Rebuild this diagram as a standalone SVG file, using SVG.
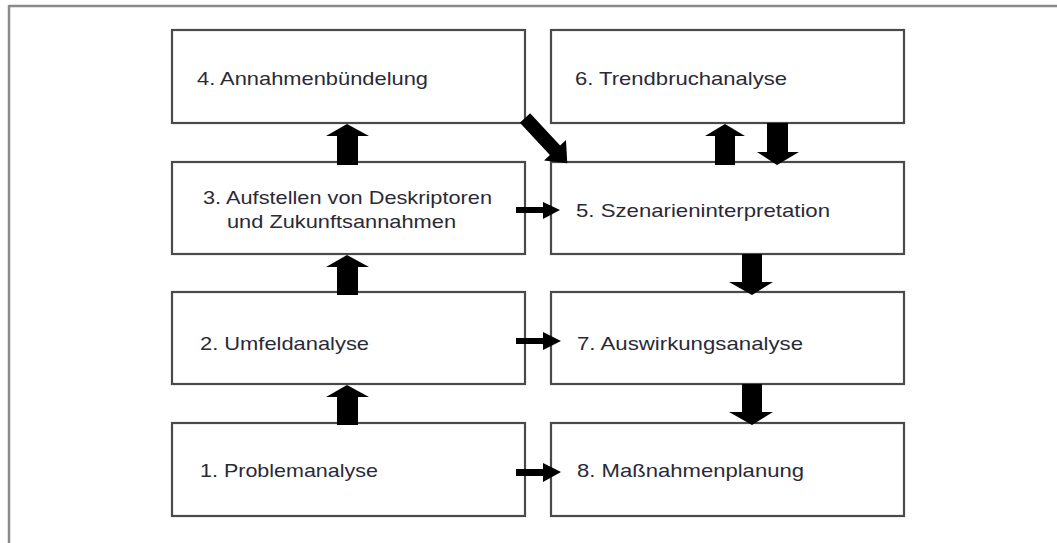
<svg xmlns="http://www.w3.org/2000/svg" width="1057" height="543" viewBox="0 0 1057 543">
<style>
.frame{stroke:#8a8a8a;stroke-width:2.5;fill:none}
.box{fill:#fff;stroke:#4a4a4a;stroke-width:2.2}
.lbl{font-family:"Liberation Sans",Arial,sans-serif;font-size:19px;fill:#2a2a36}
.arr{fill:#000}
</style>
<rect width="1057" height="543" fill="#fff"/>
<g id="frame">
<line class="frame" x1="9" y1="6" x2="1057" y2="6"/>
<line class="frame" x1="9" y1="5" x2="9" y2="543"/>
</g>
<g id="node4"><rect class="box" x="172" y="30" width="353" height="93"/><text class="lbl" x="197" y="85" textLength="231" lengthAdjust="spacingAndGlyphs">4. Annahmenbündelung</text></g>
<g id="node6"><rect class="box" x="551" y="30" width="353" height="93"/><text class="lbl" x="575" y="85" textLength="212" lengthAdjust="spacingAndGlyphs">6. Trendbruchanalyse</text></g>
<g id="node3"><rect class="box" x="172" y="162" width="353" height="92"/><text class="lbl" x="203" y="204" textLength="289" lengthAdjust="spacingAndGlyphs">3. Aufstellen von Deskriptoren</text><text class="lbl" x="227" y="228" textLength="229" lengthAdjust="spacingAndGlyphs">und Zukunftsannahmen</text></g>
<g id="node5"><rect class="box" x="551" y="162" width="353" height="92"/><text class="lbl" x="576" y="217" textLength="254" lengthAdjust="spacingAndGlyphs">5. Szenarieninterpretation</text></g>
<g id="node2"><rect class="box" x="172" y="292" width="353" height="92"/><text class="lbl" x="200" y="350" textLength="169" lengthAdjust="spacingAndGlyphs">2. Umfeldanalyse</text></g>
<g id="node7"><rect class="box" x="551" y="292" width="353" height="92"/><text class="lbl" x="577" y="350" textLength="226" lengthAdjust="spacingAndGlyphs">7. Auswirkungsanalyse</text></g>
<g id="node1"><rect class="box" x="172" y="423" width="353" height="93"/><text class="lbl" x="200" y="477" textLength="178" lengthAdjust="spacingAndGlyphs">1. Problemanalyse</text></g>
<g id="node8"><rect class="box" x="551" y="423" width="353" height="93"/><text class="lbl" x="577" y="477" textLength="227" lengthAdjust="spacingAndGlyphs">8. Maßnahmenplanung</text></g>
<g id="connectors">
<polygon class="arr" points="337,165 337,136 326,136 347,124 369,136 358,136 358,165"/>
<polygon class="arr" points="337,295 337,267 326,267 347,255 369,267 358,267 358,295"/>
<polygon class="arr" points="337,425 337,397 326,397 347,385 369,397 358,397 358,425"/>
<polygon class="arr" points="715,165 715,136 705,136 725,124 745,136 735,136 735,165"/>
<polygon class="arr" points="767,123 767,152 757,152 777,165 799,152 788,152 788,123"/>
<polygon class="arr" points="742,254 742,282 729,282 752,295 773,282 762,282 762,254"/>
<polygon class="arr" points="742,384 742,412 729,412 752,425 773,412 762,412 762,384"/>
<polygon class="arr" points="516,207 543,207 543,202 560,210 543,219 543,213 516,213"/>
<polygon class="arr" points="516,338 543,338 543,332 561,341 543,350 543,344 516,344"/>
<polygon class="arr" points="516,469 543,469 543,463 561,472 543,482 543,476 516,476"/>
<polygon class="arr" transform="translate(525,118) rotate(47)" points="0,-7 44,-7 44,-15 62,0 44,15 44,7 0,7"/>
</g>
</svg>
